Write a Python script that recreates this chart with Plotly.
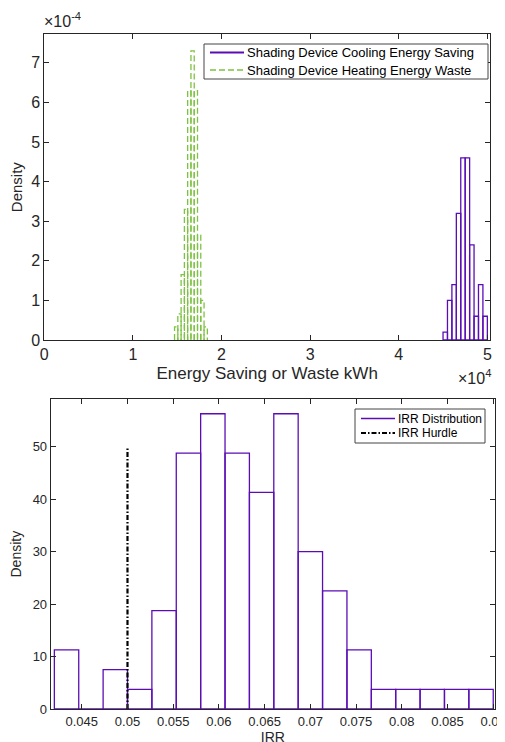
import plotly.graph_objects as go

# ---------------- data ----------------
# Top panel: histograms (pdf normalisation)
cool_start = 45000
cool_width = 500
cool_density = [0.2e-4, 1.0e-4, 1.4e-4, 3.2e-4, 4.6e-4, 4.6e-4, 2.4e-4, 0.6e-4, 1.4e-4, 0.6e-4]

heat_start = 14700
heat_width = 370
heat_density = [0.33e-4, 0.66e-4, 1.65e-4, 3.3e-4, 6.3e-4, 7.3e-4, 6.3e-4, 2.65e-4, 1.0e-4, 0.33e-4]

top_xticks = [0, 10000, 20000, 30000, 40000, 50000]
top_xticklabels = ["0", "1", "2", "3", "4", "5"]
top_yticks = [0, 1e-4, 2e-4, 3e-4, 4e-4, 5e-4, 6e-4, 7e-4]
top_yticklabels = ["0", "1", "2", "3", "4", "5", "6", "7"]
top_legend_names = ["Shading Device Cooling Energy Saving", "Shading Device Heating Energy Waste"]

# Bottom panel: IRR histogram
irr_start = 0.0420
irr_width = 0.002667
irr_density = [11.25, 0, 7.5, 3.75, 18.75, 48.75, 56.25, 48.75, 41.25, 56.25,
               30.0, 22.5, 11.25, 3.75, 3.75, 3.75, 3.75, 3.75]
irr_hurdle = 0.05
irr_hurdle_top = 50

bot_xticks = [0.045, 0.05, 0.055, 0.06, 0.065, 0.07, 0.075, 0.08, 0.085, 0.09]
bot_yticks = [0, 10, 20, 30, 40, 50]
bot_legend_names = ["IRR Distribution", "IRR Hurdle"]

PURPLE = "#5B0DB5"
GREEN = "#7DC242"
AX = "#262626"
FONT = "Liberation Sans, Arial, Helvetica, sans-serif"
GREEN_DASH = "6px,3px"
HURDLE_DASH = "5px,2px,1.5px,2px"

W, H = 505, 742
OFF = 8  # page body margin


def px(x):
    return (x - OFF) / W


def py(y):
    return 1 - (y - OFF) / H


def centers(start, width, n):
    return [start + width * (i + 0.5) for i in range(n)]


def outline(start, width, heights):
    xs, ys = [], []
    for i, h in enumerate(heights):
        l = start + i * width
        r = l + width
        xs += [l, l, r, r, None]
        ys += [0, h, h, 0, None]
    return xs, ys


fig = go.Figure()

# ---- top panel ----
fig.add_trace(go.Bar(
    x=centers(cool_start, cool_width, len(cool_density)), y=cool_density,
    width=cool_width, marker=dict(color="rgba(0,0,0,0)", line=dict(color=PURPLE, width=1.3)),
    xaxis="x", yaxis="y", showlegend=False, hoverinfo="skip"))
hx, hy = outline(heat_start, heat_width, heat_density)
fig.add_trace(go.Scatter(
    x=hx, y=hy, mode="lines", line=dict(color=GREEN, width=1.3, dash=GREEN_DASH),
    xaxis="x", yaxis="y", showlegend=False, hoverinfo="skip"))

# ---- bottom panel ----
fig.add_trace(go.Bar(
    x=centers(irr_start, irr_width, len(irr_density)), y=irr_density,
    width=irr_width, marker=dict(color="rgba(255,255,255,0)", line=dict(color=PURPLE, width=1.3)),
    xaxis="x2", yaxis="y2", showlegend=False, hoverinfo="skip"))
fig.add_trace(go.Scatter(
    x=[irr_hurdle, irr_hurdle], y=[0, irr_hurdle_top], mode="lines",
    line=dict(color="black", width=2.2, dash=HURDLE_DASH),
    xaxis="x2", yaxis="y2", showlegend=False, hoverinfo="skip"))

axis_common = dict(showline=True, linecolor=AX, linewidth=1, mirror="ticks", ticks="inside",
                   ticklen=5, tickcolor=AX, showgrid=False, zeroline=False, automargin=False,
                   tickfont=dict(family=FONT, color=AX))

# ---- manual legends (boxes, sample lines, labels) ----
shapes = []
annotations = []


def add_legend(box, rows, names, styles, fsize, line_x):
    x0, y0, x1, y1 = box
    shapes.append(dict(type="rect", xref="paper", yref="paper",
                       x0=px(x0), x1=px(x1), y0=py(y1), y1=py(y0),
                       line=dict(color="#444", width=1), fillcolor="white", layer="above"))
    for yy, name, st in zip(rows, names, styles):
        shapes.append(dict(type="line", xref="paper", yref="paper",
                           x0=px(line_x[0]), x1=px(line_x[1]), y0=py(yy), y1=py(yy),
                           line=st, layer="above"))
        annotations.append(dict(text=name, x=px(line_x[1] + 1), y=py(yy), xref="paper", yref="paper",
                                xanchor="left", yanchor="middle", showarrow=False,
                                font=dict(size=fsize, family=FONT, color="black")))


add_legend((204, 44, 488, 79), [52.5, 70], top_legend_names,
           [dict(color=PURPLE, width=2), dict(color=GREEN, width=1.3, dash=GREEN_DASH)],
           13, (210, 244))
add_legend((355, 409, 485, 443), [418.5, 433], bot_legend_names,
           [dict(color=PURPLE, width=1.3), dict(color="black", width=2, dash=HURDLE_DASH)],
           12, (361, 395))

annotations += [
    dict(text="×10<sup>-4</sup>", x=px(42), y=py(32), xref="paper", yref="paper",
         xanchor="left", yanchor="bottom", showarrow=False, font=dict(size=16, family=FONT, color=AX)),
    dict(text="×10<sup>4</sup>", x=px(493), y=py(377), xref="paper", yref="paper",
         xanchor="right", yanchor="middle", showarrow=False, font=dict(size=16, family=FONT, color=AX)),
]

fig.update_layout(
    width=W, height=H, margin=dict(l=0, r=0, t=0, b=0, autoexpand=False),
    paper_bgcolor="white", plot_bgcolor="white",
    font=dict(family=FONT, color=AX),
    barmode="overlay", showlegend=False,
    xaxis=dict(axis_common, domain=[px(44.3), px(490)], range=[0, 50300],
               tickvals=top_xticks, ticktext=top_xticklabels, tickfont=dict(size=16, family=FONT, color=AX),
               title=dict(text="Energy Saving or Waste kWh", font=dict(size=17, family=FONT, color=AX), standoff=4),
               anchor="y"),
    yaxis=dict(axis_common, domain=[py(340), py(34.3)], range=[0, 7.72e-4],
               tickvals=top_yticks, ticktext=top_yticklabels, tickfont=dict(size=16, family=FONT, color=AX),
               title=dict(text="Density", font=dict(size=15, family=FONT, color=AX), standoff=10),
               anchor="x"),
    xaxis2=dict(axis_common, domain=[px(50.7), px(495)], range=[0.0416, 0.0902],
                tickvals=bot_xticks, ticktext=[str(v) for v in bot_xticks],
                tickfont=dict(size=13, family=FONT, color=AX),
                title=dict(text="IRR", font=dict(size=14, family=FONT, color=AX), standoff=0),
                anchor="y2"),
    yaxis2=dict(axis_common, domain=[py(709), py(399.3)], range=[0, 59],
                tickvals=bot_yticks, tickfont=dict(size=13, family=FONT, color=AX),
                title=dict(text="Density", font=dict(size=14, family=FONT, color=AX), standoff=8),
                anchor="x2"),
    shapes=shapes,
    annotations=annotations,
)

fig.write_html("out.html")
